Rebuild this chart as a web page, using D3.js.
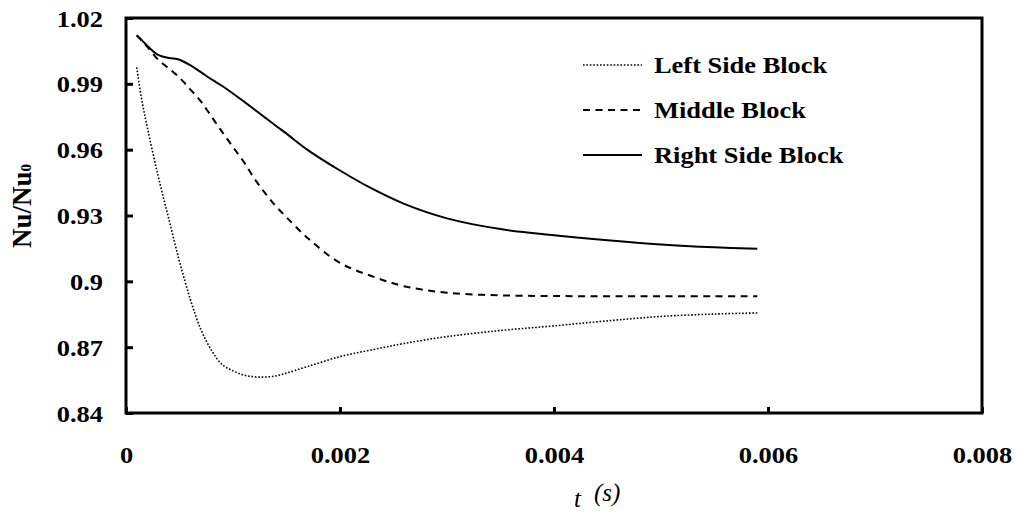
<!DOCTYPE html>
<html>
<head>
<meta charset="utf-8">
<script src="https://cdn.jsdelivr.net/npm/d3@7"></script>
<style>
  html, body { margin: 0; padding: 0; background: #fff; }
  svg { display: block; }
  text { font-family: "Liberation Serif", "Times New Roman", serif; fill: #000; }
</style>
</head>
<body>
<svg id="chart" width="1029" height="515"></svg>
<script>
// Time (s) at which each block's normalised Nusselt number is sampled
const timeS = [0.0001, 0.00015, 0.0002, 0.0003, 0.0004, 0.0005, 0.0006, 0.0007, 0.0008,
  0.0009, 0.001, 0.0011, 0.0012, 0.0013, 0.0014, 0.0015, 0.0017, 0.002, 0.0023, 0.0026,
  0.003, 0.0035, 0.004, 0.0045, 0.005, 0.0055, 0.0059];

// Nu/Nu0 for each block
const leftSideBlock = [0.9975, 0.982, 0.970, 0.948, 0.9285, 0.909, 0.892, 0.878, 0.8685,
  0.862, 0.8592, 0.8573, 0.8565, 0.8564, 0.8569, 0.8582, 0.8612, 0.8657, 0.8688, 0.8717,
  0.8748, 0.8776, 0.8797, 0.8820, 0.8840, 0.8851, 0.8856];
const middleBlock = [1.0121, 1.0095, 1.0068, 1.0010, 0.9970, 0.9928, 0.9875, 0.9820, 0.9750,
  0.9680, 0.9612, 0.9545, 0.9468, 0.9402, 0.9343, 0.9292, 0.9196, 0.9084, 0.9023, 0.8978,
  0.8948, 0.8936, 0.8933, 0.8932, 0.8932, 0.8932, 0.8932];
const rightSideBlock = [1.0121, 1.0098, 1.0073, 1.0032, 1.0018, 1.0010, 0.9985, 0.9953, 0.9920,
  0.9890, 0.9856, 0.9820, 0.9783, 0.9746, 0.9709, 0.9673, 0.9598, 0.9505, 0.9422, 0.9353,
  0.9287, 0.9238, 0.9210, 0.9187, 0.9168, 0.9155, 0.9148];

const seriesNames = ["Left Side Block", "Middle Block", "Right Side Block"];

// Axis ticks
const xTicks = [0, 0.002, 0.004, 0.006, 0.008];
const xTickLabels = ["0", "0.002", "0.004", "0.006", "0.008"];
const yTicks = [0.84, 0.87, 0.9, 0.93, 0.96, 0.99, 1.02];
const yTickLabels = ["0.84", "0.87", "0.9", "0.93", "0.96", "0.99", "1.02"];

const svg = d3.select("#chart");
const plot = { left: 126, right: 982, top: 18, bottom: 413 };
const sx = 1.15; // horizontal stretch applied to the bold labels

const x = d3.scaleLinear().domain([0, 0.008]).range([plot.left, plot.right]);
const y = d3.scaleLinear().domain([0.84, 1.02]).range([plot.bottom, plot.top]);

// Left axis: inward ticks, labels to the left
const yAxis = d3.axisLeft(y)
  .tickValues(yTicks)
  .tickFormat((d, i) => yTickLabels[i])
  .tickSizeInner(-7)
  .tickSizeOuter(0)
  .tickPadding(0);
const gy = svg.append("g").attr("transform", `translate(${plot.left},0)`).call(yAxis);
gy.select(".domain").remove();
gy.selectAll(".tick line").attr("stroke", "#000").attr("stroke-width", 3);
gy.selectAll(".tick text")
  .attr("x", -23 / sx)
  .attr("dy", "0.35em")
  .attr("transform", `scale(${sx},1)`)
  .attr("text-anchor", "end")
  .style("font-family", "'Liberation Serif', serif")
  .style("font-weight", "bold")
  .style("font-size", "23px");

// Bottom axis
const xAxis = d3.axisBottom(x)
  .tickValues(xTicks)
  .tickFormat((d, i) => xTickLabels[i])
  .tickSizeInner(-6)
  .tickSizeOuter(0)
  .tickPadding(0);
const gx = svg.append("g").attr("transform", `translate(0,${plot.bottom})`).call(xAxis);
gx.select(".domain").remove();
gx.selectAll(".tick line").attr("stroke", "#000").attr("stroke-width", 3);
gx.selectAll(".tick text")
  .attr("y", 50)
  .attr("dy", 0)
  .attr("transform", `scale(${sx},1)`)
  .attr("text-anchor", "middle")
  .style("font-family", "'Liberation Serif', serif")
  .style("font-weight", "bold")
  .style("font-size", "23px");

// Plot frame
svg.append("rect")
  .attr("x", plot.left).attr("y", plot.top)
  .attr("width", plot.right - plot.left).attr("height", plot.bottom - plot.top)
  .attr("fill", "none").attr("stroke", "#000").attr("stroke-width", 3);

// Curves
const styles = [
  { data: leftSideBlock, dash: "1.6,1.8", width: 1.6 },
  { data: middleBlock, dash: "7,5.5", width: 2 },
  { data: rightSideBlock, dash: null, width: 2 }
];
const line = d3.line()
  .x(d => x(d[0]))
  .y(d => y(d[1]))
  .curve(d3.curveCatmullRom.alpha(0.5));

styles.forEach(s => {
  svg.append("path")
    .datum(timeS.map((t, i) => [t, s.data[i]]))
    .attr("d", line)
    .attr("fill", "none")
    .attr("stroke", "#000")
    .attr("stroke-width", s.width)
    .attr("stroke-dasharray", s.dash);
});

// Legend
const legendRows = [65, 110, 155];
const legend = svg.append("g");
seriesNames.forEach((name, i) => {
  legend.append("line")
    .attr("x1", 583).attr("x2", 642)
    .attr("y1", legendRows[i]).attr("y2", legendRows[i])
    .attr("stroke", "#000")
    .attr("stroke-width", styles[i].width)
    .attr("stroke-dasharray", styles[i].dash);
  legend.append("text")
    .attr("x", 654 / sx)
    .attr("y", legendRows[i] + 8)
    .attr("transform", `scale(${sx},1)`)
    .style("font-weight", "bold")
    .style("font-size", "23px")
    .text(name);
});

// Axis titles
const yTitle = svg.append("text")
  .attr("transform", "translate(31,206) rotate(-90)")
  .attr("text-anchor", "middle")
  .style("font-weight", "bold")
  .style("font-size", "27px");
yTitle.append("tspan").text("Nu/Nu");
yTitle.append("tspan").attr("font-size", "15px").attr("dy", "0").text("0");

const xTitle = svg.append("text")
  .attr("x", 574)
  .attr("y", 507)
  .style("font-style", "italic")
  .style("font-size", "25px");
xTitle.append("tspan").text("t");
xTitle.append("tspan").attr("x", 594).attr("dy", -6).text("(s)");
</script>
</body>
</html>
